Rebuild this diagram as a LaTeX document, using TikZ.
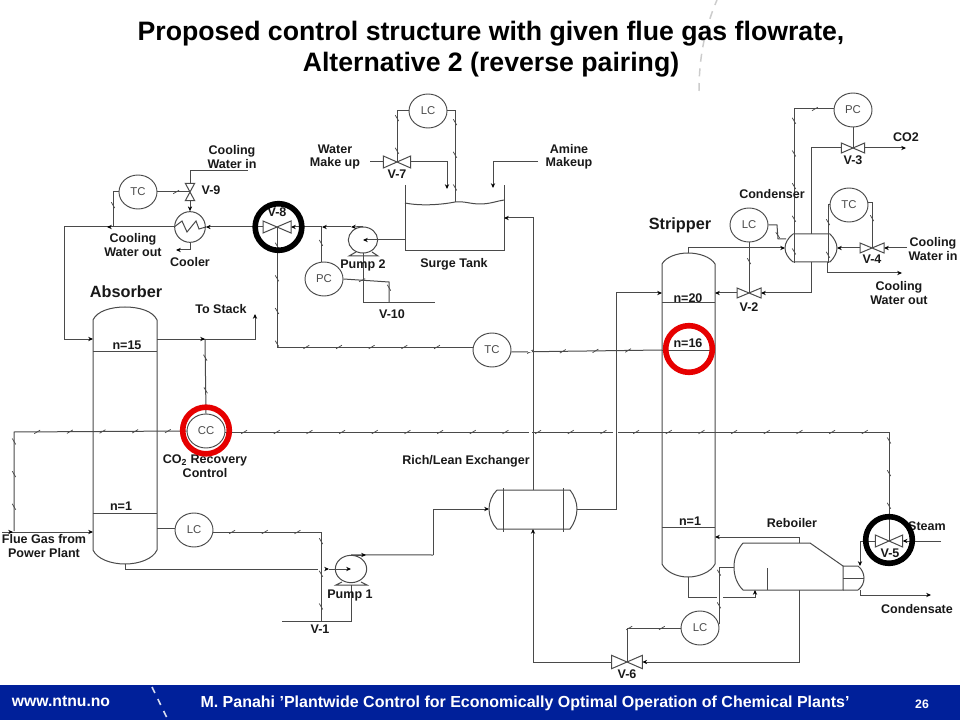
\documentclass[tikz,border=0pt]{standalone}
\usepackage{fontspec}
\setmainfont{Liberation Sans}
\usetikzlibrary{shapes.geometric,arrows.meta,decorations.markings,calc}
\definecolor{barblue}{HTML}{00209A}
\definecolor{ln}{HTML}{4A4A4A}
\definecolor{hired}{HTML}{E60000}
\tikzset{
  ctrl/.style={draw=ln,line width=.7pt,ellipse,fill=white,inner sep=0pt,minimum width=28.5pt,minimum height=25.5pt,font=\fontsize{8.5}{10}\selectfont,text=ln},
  lbl/.style={font=\bfseries\fontsize{9.4}{10.1}\selectfont,align=center,text=black!90,inner sep=0pt},
  biglbl/.style={font=\bfseries\fontsize{12.2}{14}\selectfont,inner sep=0pt,text=black!90},
  pipe/.style={draw=ln,line width=.75pt},
  tip/.style={-{Stealth[length=3.6pt,width=3.2pt,black]}},
  flow/.style={pipe,tip},
  sig/.style={pipe,postaction={decorate},decoration={markings,mark=between positions 14pt and -6pt step 24.5pt with {\draw[ln,line width=.55pt] (-2.2pt,-1.3pt)--(2.2pt,1.3pt);}}},
  ringk/.style={line width=4.2pt,draw=black},
  ringr/.style={line width=4.2pt,draw=hired},
  valvebox/.style={inner sep=0pt,outer sep=0pt,draw=none},
}
\newcommand{\valveH}[4]{\node[valvebox,minimum width=#3,minimum height=#4] (#1) at (#2) {};
  \draw[pipe,fill=white] (#1.south west)--(#1.north east)--(#1.south east)--(#1.north west)--cycle;}
\newcommand{\valveV}[4]{\node[valvebox,minimum width=#3,minimum height=#4] (#1) at (#2) {};
  \draw[pipe,fill=white] (#1.south west)--(#1.north east)--(#1.north west)--(#1.south east)--cycle;}
\begin{document}
\begin{tikzpicture}[x=.75pt,y=-.75pt]
\useasboundingbox (0,0) rectangle (960,720);
\fill[white] (0,0) rectangle (960,720);

% decorative dashes
\draw[black!20,line width=1.1pt,dash pattern=on 6pt off 5pt] (699,91) .. controls (699,60) and (704,30) .. (717,0);

% title
\node[inner sep=0pt,align=center,font=\bfseries\fontsize{20}{23.2}\selectfont] (title) at (491,49) {Proposed control structure with given flue gas flowrate,\\Alternative 2 (reverse pairing)};

% footer
\fill[barblue] (0,685) rectangle (960,720);
\draw[white!85!barblue,line width=1.2pt,dash pattern=on 5pt off 5pt] (152,687) -- (168,720);
\node[inner sep=0pt,text=white,font=\bfseries\fontsize{11.8}{13}\selectfont] (www) at (61,701) {www.ntnu.no};
\node[inner sep=0pt,text=white,font=\bfseries\fontsize{12}{14}\selectfont] (foot) at (525,703) {M. Panahi ’Plantwide Control for Economically Optimal Operation of Chemical Plants’};
\node[inner sep=0pt,text=white,font=\bfseries\fontsize{9.2}{11}\selectfont] (pg) at (922,704) {26};

% ---------- controllers
\node[ctrl] (lcT) at (428,111) {LC};
\node[ctrl] (tcL) at (138,192) {TC};
\node[ctrl] (pcM) at (324,279) {PC};
\node[ctrl] (tcM) at (492,350) {TC};
\node[ctrl] (cc)  at (206,431) {CC};
\node[ctrl] (lcA) at (194,530) {LC};
\node[ctrl] (lcB) at (700,628) {LC};
\node[ctrl] (lcS) at (749,225) {LC};
\node[ctrl] (pcR) at (853,110) {PC};
\node[ctrl] (tcR) at (849,205) {TC};

% ---------- anchors on equipment
\coordinate (abTopL) at (93,339);
\coordinate (abTopR) at (157,339);
\coordinate (abBot) at (125,564);
\coordinate (abFeed) at (93,532);
\coordinate (abLev) at (157,528);
\coordinate (stTop) at (688,253);
\coordinate (stBot) at (688,577);
\coordinate (st20L) at (662,293);
\coordinate (st20R) at (715,293);
\coordinate (st16) at (662,350);
\coordinate (stRet) at (715,537);
\coordinate (exL) at (489,509);
\coordinate (exR) at (577,509);
\coordinate (exT) at (533,490);
\coordinate (exB) at (533,529);
\coordinate (cnL) at (785,248);
\coordinate (cnR) at (837,248);
\coordinate (cnT) at (811,234);
\coordinate (cnB) at (811,262);
\coordinate (cnLev) at (786,239);
\coordinate (rbT) at (799,543);
\coordinate (rbB) at (799,590);
\coordinate (rbIn) at (755,590);
\coordinate (rbLev) at (734,567);
\coordinate (rbSt) at (860,566);
\coordinate (rbCd) at (860,590);
\coordinate (tkR) at (504,218);
\coordinate (tkOut) at (405,240);

% ---------- valves
\valveH{vEight}{277,227}{21pt}{9pt}
\valveH{vSeven}{397,162}{20.5pt}{9pt}
\valveH{vThree}{853,148}{17.5pt}{7.5pt}
\valveH{vTwo}{749,293}{18pt}{7.5pt}
\valveH{vFour}{872,248}{18pt}{7.5pt}
\valveH{vFive}{889,541}{20.5pt}{9pt}
\valveH{vSix}{627,662}{23pt}{10pt}
\valveV{vNine}{190,192}{7pt}{13pt}

% ---------- absorber
\draw[pipe] (93,320) .. controls (97,311) and (111,307) .. (125,307) .. controls (139,307) and (153,311) .. (157,320)
  -- (157,550) .. controls (153,559) and (139,564) .. (125,564) .. controls (111,564) and (97,559) .. (93,550) -- cycle;
\draw[pipe] (93,351) -- (157,351) (93,513) -- (157,513);

% ---------- stripper
\draw[pipe] (662,264) .. controls (666,257) and (677,253) .. (688,253) .. controls (699,253) and (711,257) .. (715,264)
  -- (715,564) .. controls (711,572) and (699,577) .. (688,577) .. controls (677,577) and (666,572) .. (662,564) -- cycle;
\draw[pipe] (662,303) -- (715,303) (662,350) -- (715,350) (662,527) -- (715,527);

% ---------- surge tank
\draw[pipe] (405,185) -- (405,251) -- (504,251) -- (504,185);
\draw[pipe] (405,203) .. controls (420,206) and (440,205) .. (455,202) .. controls (465,201) and (470,204) .. (480,204) .. controls (490,204) and (497,201) .. (504,200);

% ---------- exchanger
\draw[pipe] (497,490) -- (570,490) .. controls (574,495) and (577,502) .. (577,509) .. controls (577,516) and (574,524) .. (570,529)
  -- (497,529) .. controls (492,524) and (489,516) .. (489,509) .. controls (489,502) and (492,495) .. (497,490);
\draw[pipe] (503,488) -- (503,532) (563,488) -- (563,532);

% ---------- condenser
\draw[pipe] (793,234) -- (830,234) .. controls (834,238) and (837,243) .. (837,248) .. controls (837,253) and (834,258) .. (830,262)
  -- (793,262) .. controls (788,258) and (785,253) .. (785,248) .. controls (785,243) and (788,238) .. (793,234);

% ---------- reboiler
\draw[pipe] (743,543) -- (810,543) -- (843,566) -- (843,590) -- (743,590) .. controls (737,584) and (734,576) .. (734,567) .. controls (734,558) and (737,550) .. (743,543);
\draw[pipe] (767,568) -- (767,590);
\draw[pipe] (843,566) -- (858,566) .. controls (862,569) and (864,574) .. (864,578) .. controls (864,583) and (862,587) .. (858,590) -- (843,590);
\draw[pipe] (843,578) -- (864,578);

% ---------- pumps
\node[draw=ln,line width=.75pt,ellipse,inner sep=0pt,minimum width=22pt,minimum height=19.5pt,fill=white] (pumpTwo) at (363,240) {};
\draw[pipe] (356,252) -- (349,256) -- (378,256) -- (372,252);
\node[draw=ln,line width=.75pt,ellipse,inner sep=0pt,minimum width=23.5pt,minimum height=20.5pt,fill=white] (pumpOne) at (351,569) {};
\draw[pipe] (342,582) -- (336,585) -- (367,585) -- (361,582);

% ---------- cooler
\node[draw=ln,line width=.75pt,circle,inner sep=0pt,minimum size=23pt,fill=white] (cooler) at (190,227) {};
\draw[pipe] (cooler.west) -- (182,221) -- (187,232) -- (196,221) -- (199,229) -- (cooler.east);

% ---------- process pipes, left
\coordinate (cwIn) at (248,171);
\coordinate (cwOutEnd) at (176,250);
\draw[pipe] (vNine.north) |- (cwIn);
\draw[flow] (vNine.south) -- (cooler.north);
\draw[flow] (cooler.south) -- (190,250) -- (cwOutEnd);
\draw[flow] (vEight.west) -- (cooler.east);
\coordinate (leanA) at (64,227);
\draw[pipe] (cooler.west) -- (leanA) -- (64,339);
\draw[flow] (64,339) -- (abTopL);
\draw[flow] (150,227) -- (107,227);
\draw[flow] (pumpTwo.north) -- (351,227);
\draw[flow] (351,227) -- (322,227);
\draw[flow] (322,227) -- (vEight.east);
\draw[flow] (tkOut) -- (363,240);
\coordinate (vTenL) at (435,303);
\draw[pipe] (pumpTwo.south) -- (363,303) -- (vTenL);
\coordinate (waterIn) at (370,162);
\draw[pipe] (waterIn) -- (vSeven.west);
\draw[flow] (vSeven.east) -| (447,189);
\coordinate (amineIn) at (538,162);
\draw[flow] (amineIn) -| (493,188);
% to stack
\coordinate (stackEnd) at (255,314);
\draw[flow] (abTopR) -| (stackEnd);
\draw[flow] (190,339) -- (205,339);
% flue gas
\coordinate (flueIn) at (2,532);
\draw[flow] (flueIn) -- (abFeed);
\draw[flow] (2,532) -- (13,532);
% absorber bottom to pump 1
\draw[pipe] (abBot) -- (125,569) -- (318,569);
\draw[flow] (325,569) -- (329,569);
\draw[flow] (329,569) -- (pumpOne.center);
\coordinate (rlIn) at (433,555);
\draw[pipe] (rlIn) -- (433,509);
\draw[flow] (433,509) -- (exL);
\draw[pipe] (pumpOne.north) -- (rlIn);
\draw[flow] (351,555) -- (366,555);
% V-1
\coordinate (vOneL) at (282,621);
\draw[pipe] (vOneL) -- (351,621) -- (351,585);
% lean out of exchanger
\draw[flow] (exT) |- (tkR);
% rich to stripper
\draw[pipe] (exR) -- (616,509) -- (616,293);
\draw[flow] (616,293) -- (st20L);
% bottoms loop
\draw[flow] (vSix.west) -- (533,662) -- (exB);
\draw[flow] (rbB) -- (799,662) -- (vSix.east);
\draw[flow] (rbT) -- (799,537) -- (stRet);
\draw[pipe] (stBot) -- (688,597) -- (717,597);
\draw[flow] (723,597) -- (755,597) -- (rbIn);
% stripper overhead
\draw[pipe] (stTop) -- (688,248);
\draw[flow] (688,248) -- (cnL);
\draw[flow] (cnB) -- (811,293) -- (vTwo.east);
\draw[flow] (vTwo.west) -- (st20R);
\draw[pipe] (cnT) |- (vThree.west);
\coordinate (co2End) at (906,148);
\draw[flow] (vThree.east) -- (co2End);
\coordinate (cwInR) at (907,248);
\draw[flow] (cwInR) -- (vFour.east);
\draw[flow] (vFour.west) -- (cnR);
\coordinate (cwOutR) at (902,273);
\draw[flow] (827,262) |- (cwOutR);
% reboiler utilities
\coordinate (steamIn) at (941,541);
\draw[flow] (steamIn) -- (vFive.east);
\draw[flow] (vFive.west) -| (rbSt);
\coordinate (condEnd) at (931,595);
\draw[flow] (rbCd) |- (condEnd);

% ---------- signal lines
\draw[sig] (lcT.west) -| (vSeven.center);
\draw[sig] (lcT.east) -| (455,202);
\draw[sig] (tcL.east) -- (vNine.center);
\draw[sig] (tcL.west) -| (113,227);
\draw[sig] (vEight.center) -- (277,347) -- (tcM.west |- 0,347);
\draw[sig] (pcM.north) ++(-3,0) -- (321,227);
\draw[sig] (pcM.east) -- (389,282) -- (389,303);
\draw[sig] (tcM.east) ++(0,2) -- (st16);
\draw[sig] (205,339) -- (cc.north);
\draw[sig] (cc.west) -- (14,432) -- (14,531);
\draw[sig] (cc.east) ++(0,1) -- (889,432) -- (vFive.center);
\draw[sig] (lcA.west) ++(0,-2) -- (abLev);
\draw[sig] (lcA.east) ++(0,2) -- (321,532) -- (321,621);
\draw[sig] (lcB.west) -| (vSix.center);
\draw[sig] (719,624) -- (719,567) -- (rbLev);
\draw[sig] (lcS.south) -- (vTwo.center);
\draw[sig] (lcS.east) -- (777,225) -- (778,239) -- (cnLev);
\draw[sig] (pcR.west) ++(0,-1) -- (794,109) -- (794,263);
\draw[sig] (pcR.south) -- (vThree.center);
\draw[sig] (tcR.west) -- (828,205) -- (828,263);
\draw[sig] (tcR.east) ++(0,-2) -- (872,203) -- (vFour.center);

% crossing gaps in the long signal lines
\draw[white,line width=1.3pt] (529,432) -- (532,432) (612.5,432) -- (618,432) (528,351.5) -- (532,351.5);
\draw[pipe] (533,425) -- (533,440) (533,345) -- (533,358) (616,425) -- (616,440);

% ---------- labels
\node[lbl] (t1) at (232,157) {Cooling\\Water in};
\node[lbl,anchor=center] (t2) at (211,190) {V-9};
\node[lbl] (t3) at (335,157) {Water\\Make up};
\node[lbl] (t4) at (397,174) {V-7};
\node[lbl] (t5) at (133,245) {Cooling\\Water out};
\node[lbl] (t6) at (190,262) {Cooler};
\node[lbl] (t7) at (277,212) {V-8};
\node[lbl] (t8) at (363,265) {Pump 2};
\node[lbl] (t9) at (454,264) {Surge Tank};
\node[lbl] (t10) at (392,314) {V-10};
\node[biglbl] (t11) at (126,292) {Absorber};
\node[lbl] (t12) at (221,309) {To Stack};
\node[lbl] (t13) at (127,345) {n=15};
\node[lbl] (t14) at (569,157) {Amine\\Makeup};
\node[lbl] (t15) at (906,137) {CO2};
\node[lbl] (t16) at (853,160) {V-3};
\node[lbl] (t17) at (772,194) {Condenser};
\node[biglbl] (t18) at (680,225) {Stripper};
\node[lbl] (t19) at (872,259) {V-4};
\node[lbl] (t20) at (933,249) {Cooling\\Water in};
\node[lbl] (t21) at (899,293) {Cooling\\Water out};
\node[lbl] (t22) at (749,307) {V-2};
\node[lbl] (t23) at (688,298) {n=20};
\node[lbl] (t24) at (688,343) {n=16};
\node[lbl] (t25) at (205,466) {CO\textsubscript{2} Recovery\\Control};
\node[lbl] (t26) at (466,461) {Rich/Lean Exchanger};
\node[lbl] (t27) at (121,506) {n=1};
\node[lbl] (t28) at (44,546) {Flue Gas from\\Power Plant};
\node[lbl] (t29) at (350,595) {Pump 1};
\node[lbl] (t30) at (320,629) {V-1};
\node[lbl] (t31) at (792,523) {Reboiler};
\node[lbl] (t32) at (927,526) {Steam};
\node[lbl] (t33) at (890,553) {V-5};
\node[lbl] (t34) at (690,521) {n=1};
\node[lbl] (t35) at (917,609) {Condensate};
\node[lbl] (t36) at (627,674) {V-6};

% ---------- highlight rings
\node[ringk,circle,inner sep=0pt,minimum size=35pt] (ringA) at (278.5,227) {};
\node[ringk,circle,inner sep=0pt,minimum size=35pt] (ringB) at (889,540) {};
\node[ringr,circle,inner sep=0pt,minimum size=35pt] (ringC) at (206,430.5) {};
\node[ringr,circle,inner sep=0pt,minimum size=35pt] (ringD) at (689,349) {};
\end{tikzpicture}
\end{document}
